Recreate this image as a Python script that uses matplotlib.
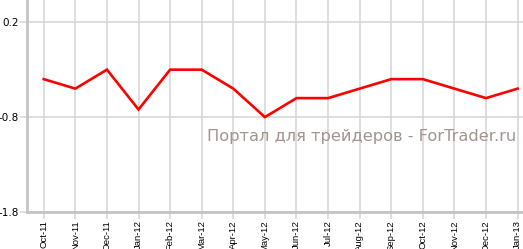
import matplotlib
matplotlib.use("Agg")
import matplotlib.pyplot as plt

categories = ["Oct-11", "Nov-11", "Dec-11", "Jan-12", "Feb-12", "Mar-12", "Apr-12",
              "May-12", "Jun-12", "Jul-12", "Aug-12", "Sep-12", "Oct-12", "Nov-12",
              "Dec-12", "Jan-13"]
values = [-0.4, -0.5, -0.3, -0.72, -0.3, -0.3, -0.5, -0.8, -0.6, -0.6, -0.5,
          -0.4, -0.4, -0.5, -0.6, -0.5]
y_ticks = [0.2, -0.8, -1.8]
y_tick_labels = ["0.2", "-0.8", "-1.8"]
watermark = "Портал для трейдеров - ForTrader.ru"

W, H = 523, 249
fig = plt.figure(figsize=(W / 100, H / 100), dpi=100)
ax = fig.add_axes([27 / W, (H - 212) / H, 1 - 27 / W, 212 / H])

x = list(range(len(categories)))
ax.plot(x, values, color="#ff0000", lw=1.9, solid_joinstyle="miter", zorder=3)

ax.set_xlim(-0.53, 15.17)
ax.set_ylim(-1.8, 0.434)
ax.set_xticks(x)
ax.set_xticklabels(categories, rotation=90, fontsize=6.8, fontfamily="Liberation Sans")
ax.set_yticks(y_ticks)
ax.set_yticklabels(y_tick_labels, fontsize=7.5, fontfamily="DejaVu Sans")

ax.grid(True, color="#d4d4d4", lw=1.1, zorder=1)
ax.tick_params(axis="both", length=5, width=1.1, color="#d4d4d4", pad=1)
for s in ["top", "right"]:
    ax.spines[s].set_visible(False)
for s in ["left", "bottom"]:
    ax.spines[s].set_color("#c4c4c4")
    ax.spines[s].set_linewidth(2)
ax.set_axisbelow(True)

ax.text(0.986, 0.358, watermark, transform=ax.transAxes, ha="right", va="center",
        fontsize=11.7, color="#a39492", fontfamily="DejaVu Sans", zorder=2)

fig.savefig("out.png", dpi=100)
